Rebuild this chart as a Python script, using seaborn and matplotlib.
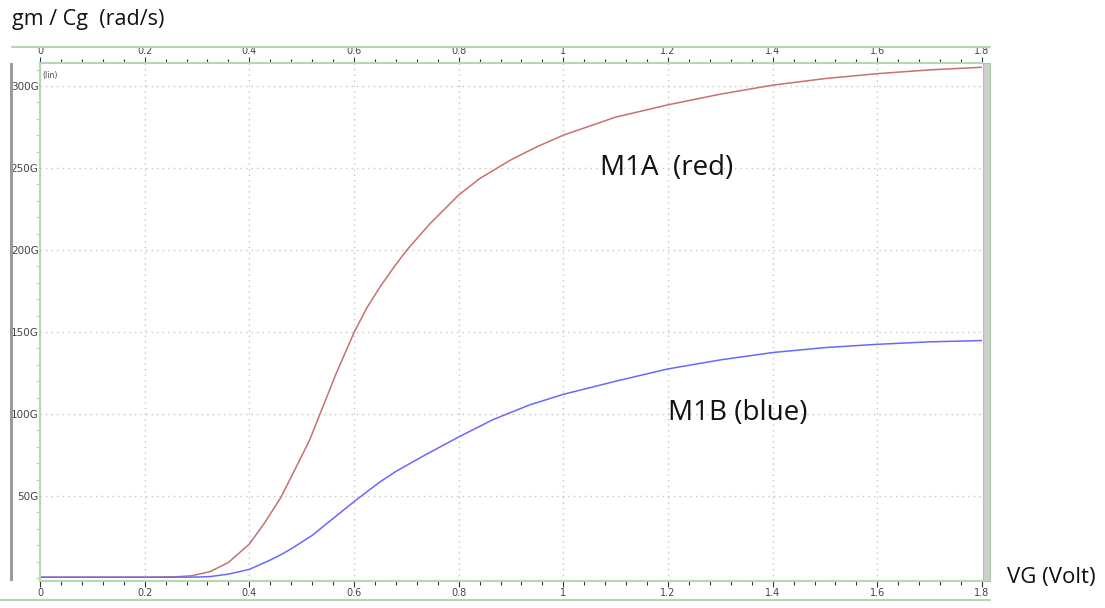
import matplotlib
matplotlib.use("Agg")
import matplotlib.pyplot as plt
import seaborn as sns
import pandas as pd
from matplotlib.lines import Line2D
from matplotlib.patches import Rectangle
from matplotlib.ticker import MultipleLocator, FixedLocator

# ---- data (gm/Cg in G rad/s vs VG in volts) ----
vg_red = [0, 0.1, 0.2, 0.23, 0.26, 0.29, 0.325, 0.36, 0.4, 0.43, 0.46, 0.49,
          0.515, 0.535, 0.565, 0.6, 0.625, 0.65, 0.675, 0.7, 0.745, 0.8, 0.84,
          0.9, 0.95, 1.0, 1.1, 1.2, 1.3, 1.4, 1.5, 1.6, 1.7, 1.8]
m1a_red = [0.5, 0.5, 0.5, 0.6, 0.8, 1.4, 3.9, 9.5, 20.7, 34, 49, 68,
           84, 100, 124, 149.6, 165, 177.6, 189, 199.6, 216, 233.5, 243.5,
           255, 263, 270, 281, 288.5, 295, 300.5, 304.5, 307.5, 309.8, 311.4]
vg_blue = [0, 0.1, 0.2, 0.25, 0.3, 0.325, 0.36, 0.4, 0.44, 0.46, 0.48, 0.52,
           0.555, 0.59, 0.62, 0.65, 0.68, 0.73, 0.8, 0.865, 0.935, 1.0, 1.1,
           1.2, 1.3, 1.4, 1.5, 1.6, 1.7, 1.8]
m1b_blue = [0.5, 0.5, 0.5, 0.5, 0.6, 0.9, 2.4, 5.3, 11, 14.2, 17.8, 26,
            35, 44, 51.5, 58.7, 65, 74, 86, 96.5, 105.5, 112, 120,
            127.5, 133, 137.5, 140.5, 142.5, 144, 144.8]
x_ticks = [0, 0.2, 0.4, 0.6, 0.8, 1.0, 1.2, 1.4, 1.6, 1.8]
x_tick_labels = ["0", "0.2", "0.4", "0.6", "0.8", "1", "1.2", "1.4", "1.6", "1.8"]
y_ticks = [50, 100, 150, 200, 250, 300]
y_tick_labels = ["50G", "100G", "150G", "200G", "250G", "300G"]

df_red = pd.DataFrame({"VG": vg_red, "gm_Cg": m1a_red})
df_blue = pd.DataFrame({"VG": vg_blue, "gm_Cg": m1b_blue})

sns.set_style("white")
plt.rcParams["font.family"] = ["DejaVu Sans"]

W, H = 1105, 608
fig = plt.figure(figsize=(W / 100, H / 100), dpi=100)
ax = fig.add_axes([40 / W, 1 - 581 / H, (982 - 40) / W, (581 - 63) / H])

red_c = "#c87070"
blue_c = "#6868ff"
green_c = "#b4d8b4"

sns.lineplot(data=df_red, x="VG", y="gm_Cg", ax=ax, color=red_c, lw=1.1, estimator=None)
sns.lineplot(data=df_blue, x="VG", y="gm_Cg", ax=ax, color=blue_c, lw=1.1, estimator=None)

ax.set_xlim(0, 1.8)
ax.set_ylim(-1.8, 314)
ax.set_xlabel("")
ax.set_ylabel("")

ax.xaxis.set_major_locator(FixedLocator(x_ticks))
ax.set_xticklabels(x_tick_labels)
ax.xaxis.set_minor_locator(MultipleLocator(0.04))
ax.yaxis.set_major_locator(FixedLocator(y_ticks))
ax.set_yticklabels(y_tick_labels)
ax.yaxis.set_minor_locator(MultipleLocator(10))

ax.tick_params(axis="x", which="both", top=True, bottom=True, labeltop=True,
               labelbottom=True, direction="out", color="#333333",
               labelsize=7, labelcolor="#444444", pad=1)
ax.tick_params(axis="x", which="major", length=4, width=0.8)
ax.tick_params(axis="x", which="minor", length=3, width=0.8)
ax.tick_params(axis="y", which="both", left=True, direction="out", color=green_c,
               labelsize=7.5, labelcolor="#444444", pad=1)
ax.tick_params(axis="y", which="major", length=0)
ax.tick_params(axis="y", which="minor", length=3, width=0.8)

ax.grid(True, which="major", color="#c4c4c4", linestyle=(0, (1, 3)), lw=1)
for s in ["left", "bottom", "top"]:
    ax.spines[s].set_color(green_c)
    ax.spines[s].set_linewidth(1.5)
ax.spines["right"].set_visible(False)

ax.text(0.002, 0.985, "(lin)", transform=ax.transAxes, fontsize=5.5,
        color="#444444", va="top", ha="left")

big_font = ["Open Sans", "DejaVu Sans"]
ax.text(1.07, 250, "M1A  (red)", fontsize=20, family=big_font,
        color="#111111", va="center", ha="left")
ax.text(1.2, 100.5, "M1B (blue)", fontsize=20, family=big_font,
        color="#111111", va="center", ha="left")

# titles / axis captions
fig.text(12 / W, 1 - 19 / H, "gm / Cg  (rad/s)", fontsize=15.5,
         family=big_font, color="#111111", va="center", ha="left")
fig.text(1007 / W, 1 - 578 / H, "VG (Volt)", fontsize=16,
         family=big_font, color="#111111", va="center", ha="left")

# frame decorations (header / footer lines, side bars)
fig.add_artist(Line2D([12 / W, 990 / W], [1 - 47 / H, 1 - 47 / H],
                      transform=fig.transFigure, color=green_c, lw=1.5))
fig.add_artist(Line2D([0, 990 / W], [1 - 600 / H, 1 - 600 / H],
                      transform=fig.transFigure, color=green_c, lw=1.5))
fig.add_artist(Rectangle((10 / W, 1 - 581 / H), 3 / W, 518 / H,
                         transform=fig.transFigure, color="#9a9a9a", lw=0))
fig.add_artist(Rectangle((983 / W, 1 - 581 / H), 7 / W, 518 / H,
                         transform=fig.transFigure, facecolor="#cfcfcf",
                         edgecolor="#a8c8a8", lw=0.8))

fig.savefig("out.png", dpi=100)
